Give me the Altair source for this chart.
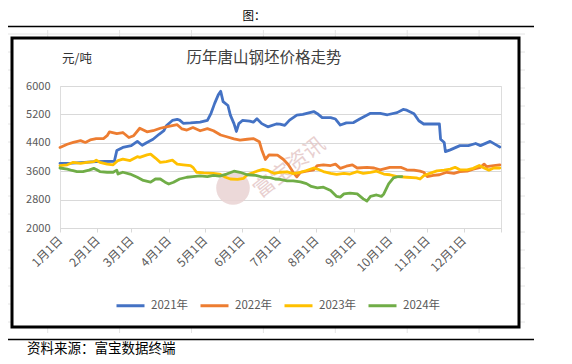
import altair as alt
import pandas as pd

FONT = "Noto Sans CJK SC"

years = ["2021年", "2022年", "2023年", "2024年"]
colors = ["#4472C4", "#ED7D31", "#FFC000", "#70AD47"]

month_ticks = [0, 31, 59, 90, 120, 151, 181, 212, 243, 273, 304, 334, 365]
month_labels = ["1月1日", "2月1日", "3月1日", "4月1日", "5月1日", "6月1日",
                "7月1日", "8月1日", "9月1日", "10月1日", "11月1日", "12月1日", ""]
y_ticks = [2000, 2800, 3600, 4400, 5200, 6000]

# (day of year, price)
s2021 = [(0,3820),(10,3830),(20,3850),(30,3870),(45,3880),(47,4180),(52,4270),(59,4320),(64,4440),
         (68,4330),(72,4410),(77,4500),(82,4640),(86,4740),(88,4880),(93,5030),(97,5060),(99,5040),
         (102,4950),(108,4960),(116,4980),(122,5030),(125,5230),(128,5510),(131,5750),(133,5850),
         (135,5560),(139,5450),(141,5180),(144,4940),(146,4720),(148,4940),(151,5030),(157,5010),
         (160,4980),(163,5080),(167,4940),(172,4850),(179,4930),(182,4925),(186,4890),(190,5040),
         (196,5180),(201,5200),(210,5280),(213,5220),(217,5110),(224,5110),(228,5070),(232,4900),
         (237,4960),(243,4970),(248,5070),(257,5230),(265,5230),(271,5190),(279,5250),(284,5340),
         (287,5320),(293,5220),(297,5020),(301,4930),(314,4930),(315,4500),(318,4410),(319,4150),
         (323,4200),(331,4320),(338,4320),(344,4380),(348,4320),(356,4440),(362,4320),(364,4280)]
s2022 = [(0,4270),(6,4360),(11,4410),(17,4460),(21,4410),(25,4480),(30,4520),(36,4520),(39,4600),
         (41,4710),(47,4660),(52,4690),(57,4550),(61,4600),(66,4810),(72,4710),(77,4740),(83,4810),
         (88,4850),(94,4890),(97,4910),(101,4790),(105,4760),(110,4830),(116,4740),(122,4800),
         (127,4740),(133,4620),(138,4570),(144,4510),(149,4475),(155,4500),(160,4520),(165,4430),
         (167,4200),(170,3930),(173,4060),(180,4050),(185,3930),(189,3780),(193,3570),(196,3440),
         (199,3570),(204,3600),(210,3640),(213,3760),(218,3780),(224,3760),(228,3800),(232,3680),
         (237,3740),(242,3780),(246,3690),(254,3710),(260,3690),(265,3640),(273,3710),(282,3710),
         (287,3640),(293,3630),(298,3600),(301,3570),(304,3450),(309,3480),(314,3500),(320,3570),
         (326,3540),(331,3590),(337,3600),(342,3660),(348,3710),(351,3800),(353,3730),(359,3760),
         (364,3780)]
s2023 = [(0,3760),(6,3780),(11,3850),(17,3820),(22,3850),(28,3870),(30,3910),(33,3850),(39,3800),
         (44,3780),(48,3900),(52,3940),(58,3900),(64,4010),(66,3990),(72,4060),(75,4080),(79,3970),
         (83,3850),(88,3870),(93,3910),(97,3800),(102,3780),(108,3760),(110,3710),(113,3570),
         (119,3550),(127,3540),(132,3520),(137,3430),(141,3380),(147,3370),(152,3400),(155,3500),
         (160,3560),(163,3600),(168,3650),(172,3620),(177,3540),(182,3570),(188,3580),(193,3530),
         (199,3570),(204,3620),(210,3690),(213,3660),(218,3590),(224,3540),(229,3510),(235,3540),
         (240,3520),(246,3590),(251,3540),(257,3570),(262,3600),(268,3520),(273,3500),(279,3450),
         (287,3430),(295,3410),(298,3380),(301,3470),(306,3540),(312,3610),(318,3630),(323,3660),
         (327,3710),(331,3640),(337,3640),(342,3680),(347,3760),(351,3690),(355,3630),(359,3690),
         (364,3690)]
s2024 = [(0,3690),(6,3660),(10,3620),(14,3590),(19,3590),(24,3630),(28,3680),(30,3650),(33,3590),
         (39,3570),(44,3570),(47,3630),(48,3520),(52,3570),(58,3520),(64,3430),(69,3340),(75,3290),
         (79,3380),(83,3380),(87,3290),(90,3240),(94,3290),(99,3380),(105,3430),(110,3450),
         (116,3470),(122,3450),(127,3480),(132,3460),(138,3520),(144,3600),(149,3570),(155,3500),
         (162,3480),(168,3430),(174,3420),(178,3380),(182,3370),(188,3330),(193,3330),(199,3300),
         (204,3250),(208,3170),(213,3130),(218,3150),(224,3055),(229,2890),(232,2870),(235,2960),
         (240,2980),(246,2960),(251,2820),(254,2760),(257,2890),(262,2930),(266,2890),(268,2960),
         (272,3240),(276,3410),(280,3450),(283,3450)]

rows = []
for name, series in zip(years, [s2021, s2022, s2023, s2024]):
    for d, v in series:
        rows.append({"day": d, "price": v, "year": name})
df = pd.DataFrame(rows)

label_expr = "".join(
    f"datum.value == {d} ? '{lab}' : " for d, lab in zip(month_ticks, month_labels)
) + "''"

W, H = 441, 142
ONE = alt.Data(values=[{}])


def rule(x, y, x2=None, y2=None, color="#000000", width=1.0):
    enc = {"x": alt.value(x), "y": alt.value(y)}
    if x2 is not None:
        enc["x2"] = alt.value(x2)
    if y2 is not None:
        enc["y2"] = alt.value(y2)
    return alt.Chart(ONE).mark_rule(color=color, strokeWidth=width).encode(**enc)


def text(x, y, s, size=12, color="#000000", align="center", angle=0, weight="normal", opacity=1.0):
    return alt.Chart(ONE).mark_text(
        text=s, fontSize=size, color=color, align=align, baseline="middle",
        font=FONT, angle=angle, fontWeight=weight, opacity=opacity,
    ).encode(x=alt.value(x), y=alt.value(y))


# plot origin is at page (60, 86)
ox, oy = 60, 86
layers = []

# faint spreadsheet cell grid visible around the chart object
grid_c = "#E4E4E4"
layers.append(rule(5 - ox, 34 - oy, x2=525 - ox, color=grid_c))
for r in range(1, 17):
    yy = 34 + 18 * r - oy
    layers.append(rule(5 - ox, yy, x2=12 - ox, color=grid_c))
    layers.append(rule(519 - ox, yy, x2=525 - ox, color=grid_c))
for c in range(7):
    xx = 47.7 + 71.9 * c - ox
    layers.append(rule(xx, 30 - oy, y2=38 - oy, color=grid_c))
    layers.append(rule(xx, 327 - oy, y2=333 - oy, color=grid_c))

# black frame of the chart object
layers.append(
    alt.Chart(ONE).mark_rect(fillOpacity=0, stroke="#000000", strokeWidth=3).encode(
        x=alt.value(12 - ox), x2=alt.value(519 - ox), y=alt.value(38 - oy), y2=alt.value(327 - oy)
    )
)

# document lines and captions
layers.append(rule(0 - ox, 26.5 - oy, x2=534 - ox, color="#000000", width=1.3))
layers.append(rule(0 - ox, 339.5 - oy, x2=534 - ox, color="#000000", width=1.3))
layers.append(text(254 - ox, 16.5 - oy, "图：", size=11.5, color="#000000"))
layers.append(text(27 - ox, 348.5 - oy, "资料来源：富宝数据终端", size=13.5, color="#000000", align="left"))
layers.append(text(62 - ox, 59 - oy, "元/吨", size=12.5, color="#333333", align="left"))
layers.append(text(264 - ox, 58 - oy, "历年唐山钢坯价格走势", size=15.5, color="#404040"))

# watermark
layers.append(
    alt.Chart(ONE).mark_point(filled=True, shape="circle", size=1130, color="#E9D2D2", opacity=0.85).encode(
        x=alt.value(233 - ox), y=alt.value(188 - oy)
    )
)
layers.append(text(290 - ox, 168 - oy, "富宝资讯", size=21, color="#E3C4C4", angle=322, opacity=0.8))

lines = alt.Chart(df).mark_line(strokeWidth=2.8, strokeJoin="round", strokeCap="round").encode(
    x=alt.X(
        "day:Q",
        scale=alt.Scale(domain=[0, 365], nice=False, zero=False),
        axis=alt.Axis(
            values=month_ticks, labelExpr=label_expr, labelAngle=-45, labelAlign="right",
            labelBaseline="middle", labelPadding=6, title=None, grid=False, tickSize=4,
            tickColor="#D9D9D9", domainColor="#D9D9D9", labelColor="#595959",
            labelFontSize=12, labelFont=FONT, labelOverlap=False, labelFlush=False,
        ),
    ),
    y=alt.Y(
        "price:Q",
        scale=alt.Scale(domain=[2000, 6000], nice=False, zero=False),
        axis=alt.Axis(
            values=y_ticks, format="d", title=None, grid=True, gridColor="#D9D9D9",
            domain=False, ticks=False, labelPadding=10, labelColor="#595959",
            labelFontSize=11, labelFont=FONT,
        ),
    ),
    color=alt.Color(
        "year:N",
        scale=alt.Scale(domain=years, range=colors),
        legend=alt.Legend(
            orient="none", legendX=55, legendY=204, direction="horizontal", title=None,
            symbolType="stroke", symbolStrokeWidth=3, symbolSize=784,
            labelFontSize=11.5, labelColor="#595959", labelFont=FONT,
            columnPadding=5, labelOffset=5,
        ),
    ),
)
layers.append(lines)

chart = alt.layer(*layers).properties(
    width=W, height=H,
    autosize=alt.AutoSizeParams(type="none"),
    padding={"left": 52, "top": 78, "right": 63, "bottom": 128},
).configure_view(stroke=None).configure(background="#FFFFFF")

chart.save("out.html", embed_options={"renderer": "svg", "actions": False})
